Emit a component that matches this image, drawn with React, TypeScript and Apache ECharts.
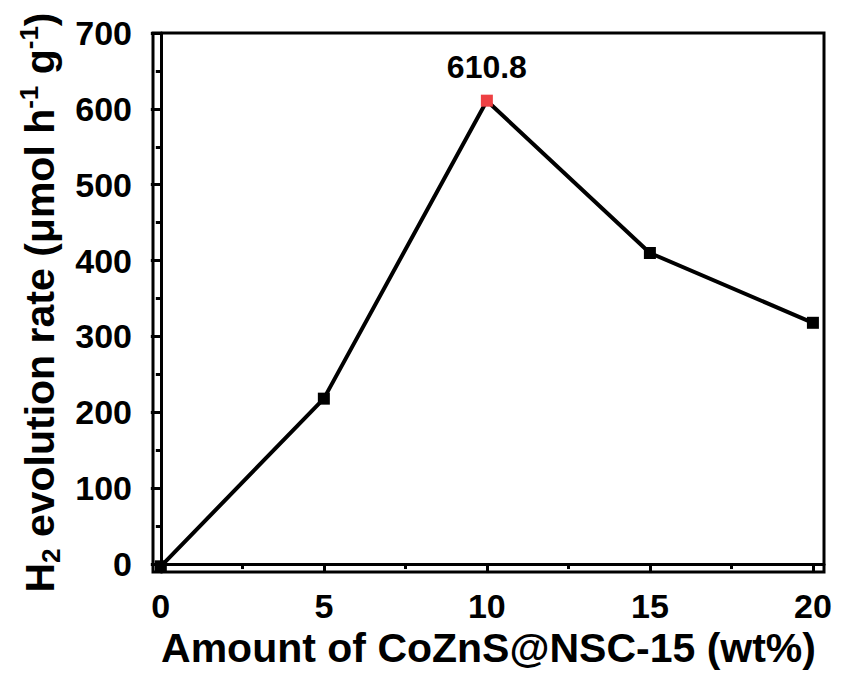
import React, { useEffect, useRef } from "react";
import * as echarts from "echarts";

const amounts = [0, 5, 10, 15, 20];
const rates = [-3, 218, 610.8, 410, 318];
const xTickValues = [0, 5, 10, 15, 20];
const xMinorValues = [2.5, 7.5, 12.5, 17.5];
const yTickValues = [0, 100, 200, 300, 400, 500, 600, 700];
const yMinorValues = [50, 150, 250, 350, 450, 550, 650];
const peakIndex = 2;
const peakLabel = "610.8";

const FONT = "Liberation Sans, Arial, sans-serif";

export default function App() {
  const ref = useRef<HTMLDivElement>(null);
  useEffect(() => {
    if (!ref.current) return;
    const chart = echarts.init(ref.current, undefined, { renderer: "svg" });
    const data = amounts.map((x, i) => {
      const item: any = { value: [x, rates[i]] };
      if (i === peakIndex) {
        item.itemStyle = { color: "#ee4043" };
        item.label = {
          show: true,
          position: "top",
          distance: 12,
          formatter: peakLabel,
          fontFamily: FONT,
          fontWeight: "bold",
          fontSize: 32,
          color: "#000",
        };
      }
      return item;
    });
    const xMin = -0.24;
    const xMax = 20.34;
    const yMin = -10.5;
    const yMax = 700;
    chart.setOption({
      animation: false,
      grid: {
        left: 153,
        right: 19,
        top: 33,
        bottom: 107,
        show: true,
        borderColor: "#000",
        borderWidth: 3,
        backgroundColor: "transparent",
      },
      xAxis: [
        {
          type: "value",
          min: xMin,
          max: xMax,
          position: "bottom",
          splitLine: { show: false },
          axisLine: { show: true, lineStyle: { color: "#000", width: 3 } },
          axisTick: {
            show: true,
            inside: false,
            length: 9,
            customValues: xTickValues,
            lineStyle: { color: "#000", width: 3 },
          },
          axisLabel: {
            customValues: xTickValues,
            margin: 17,
            fontFamily: FONT,
            fontWeight: "bold",
            fontSize: 34,
            color: "#000",
          },
          name: "Amount of CoZnS@NSC-15 (wt%)",
          nameLocation: "middle",
          nameGap: 46,
          nameTextStyle: {
            fontFamily: FONT,
            fontWeight: "bold",
            fontSize: 41,
            color: "#000",
          },
        },
        {
          type: "value",
          min: xMin,
          max: xMax,
          position: "bottom",
          splitLine: { show: false },
          axisLine: { show: false },
          axisTick: {
            show: true,
            inside: false,
            length: 5,
            customValues: xMinorValues,
            lineStyle: { color: "#000", width: 3 },
          },
          axisLabel: { show: false },
        },
      ],
      yAxis: [
        {
          type: "value",
          min: yMin,
          max: yMax,
          position: "left",
          splitLine: { show: false },
          axisLine: { show: true, lineStyle: { color: "#000", width: 3 } },
          axisTick: {
            show: true,
            inside: false,
            length: 10,
            customValues: yTickValues,
            lineStyle: { color: "#000", width: 3 },
          },
          axisLabel: {
            customValues: yTickValues,
            margin: 21,
            fontFamily: FONT,
            fontWeight: "bold",
            fontSize: 34,
            color: "#000",
          },
          name: "H{sub|2} evolution rate (μmol h{sup|-1} g{sup|-1})",
          nameLocation: "middle",
          nameGap: 86,
          nameTextStyle: {
            fontFamily: FONT,
            fontWeight: "bold",
            fontSize: 41,
            color: "#000",
            lineHeight: 48,
            verticalAlign: "middle",
            rich: {
              sub: {
                fontFamily: FONT,
                fontWeight: "bold",
                fontSize: 26,
                color: "#000",
                verticalAlign: "bottom",
                lineHeight: 48,
              },
              sup: {
                fontFamily: FONT,
                fontWeight: "bold",
                fontSize: 26,
                color: "#000",
                verticalAlign: "top",
                lineHeight: 48,
              },
            },
          },
        },
        {
          type: "value",
          min: yMin,
          max: yMax,
          position: "left",
          splitLine: { show: false },
          axisLine: { show: false },
          axisTick: {
            show: true,
            inside: false,
            length: 5,
            customValues: yMinorValues,
            lineStyle: { color: "#000", width: 3 },
          },
          axisLabel: { show: false },
        },
      ],
      series: [
        {
          type: "line",
          xAxisIndex: 0,
          yAxisIndex: 0,
          data,
          symbol: "rect",
          symbolSize: 12,
          lineStyle: { color: "#000", width: 4 },
          itemStyle: { color: "#000" },
          z: 5,
        },
      ],
    });
    return () => chart.dispose();
  }, []);
  return (
    <div
      ref={ref}
      style={{ position: "fixed", left: 0, top: 0, width: 843, height: 679, background: "#fff" }}
    />
  );
}
